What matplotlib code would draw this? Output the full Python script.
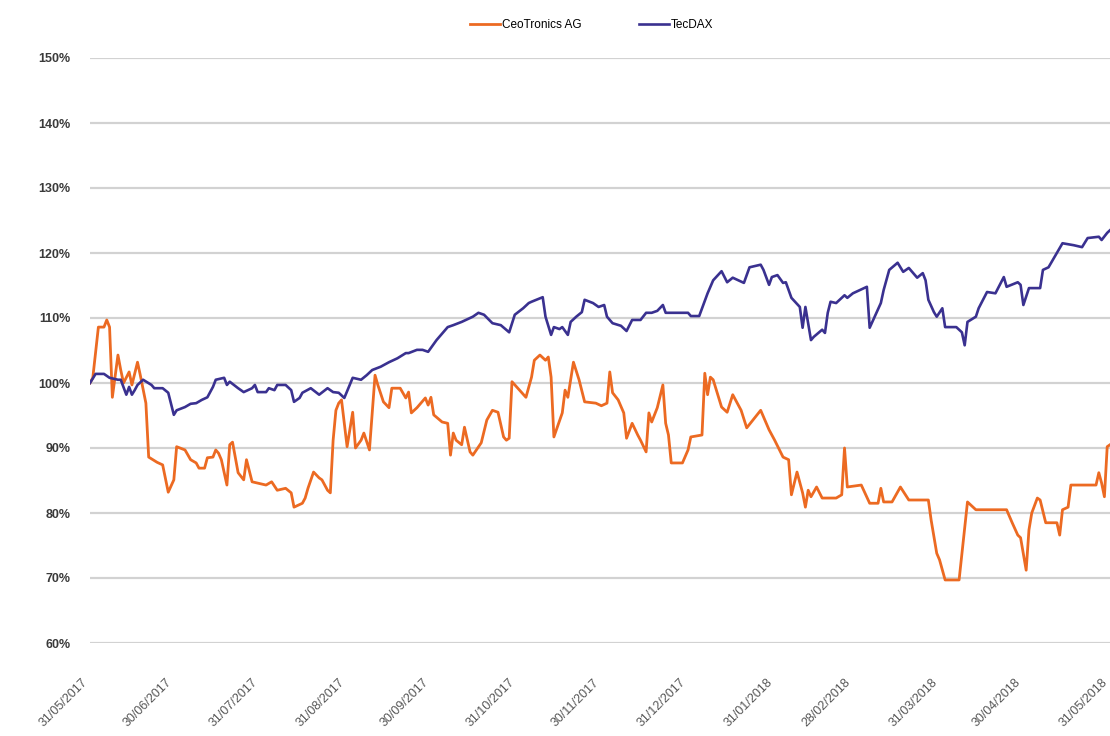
import matplotlib
matplotlib.use("Agg")
import matplotlib.pyplot as plt
import matplotlib.dates as mdates
import numpy as np

# days counted from 31/05/2017, values in percent of start
start = np.datetime64("2017-05-31")

tecdax_days = [0, 2, 5, 7, 10, 11, 13, 14, 15, 16, 17, 19, 22, 23, 26, 28, 30, 31, 34, 36,
               38, 40, 42, 44, 45, 48, 49, 50, 53, 55, 58, 59, 60, 63, 64, 66, 67, 70, 72, 73,
               75, 76, 79, 82, 85, 87, 89, 91, 94, 97, 99, 101, 104, 107, 110, 113, 114, 117, 119, 121,
               124, 128, 130, 133, 137, 139, 141, 144, 147, 150, 152, 155, 157, 158, 162, 163, 165, 166, 168, 169,
               171, 172, 174, 176, 177, 180, 182, 184, 185, 187, 190, 192, 194, 197, 199, 201, 203, 205, 206, 214,
               215, 218, 221, 223, 226, 228, 230, 234, 236, 240, 241, 243, 244, 246, 248, 249, 251, 254, 255, 256,
               257, 258, 259, 262, 263, 264, 265, 267, 269, 270, 271, 273, 277, 278, 279, 283, 284, 286, 289, 291,
               293, 296, 298, 299, 300, 302, 303, 305, 306, 308, 310, 312, 313, 314, 317, 318, 321, 324, 327, 328,
               332, 333, 334, 336, 340, 341, 343, 346, 348, 352, 355, 357, 361, 362, 364, 365]
tecdax_vals = [100.0, 101.4, 101.4, 100.8, 100.5, 100.5, 98.2, 99.4, 98.2, 98.9, 99.7, 100.5, 99.7, 99.2, 99.2, 98.5, 95.1, 95.8, 96.3, 96.8,
               96.9, 97.4, 97.8, 99.4, 100.5, 100.8, 99.7, 100.2, 99.2, 98.6, 99.2, 99.7, 98.6, 98.6, 99.2, 98.9, 99.7, 99.7, 98.9, 97.1,
               97.7, 98.5, 99.2, 98.2, 99.2, 98.6, 98.5, 97.7, 100.8, 100.5, 101.2, 102.0, 102.5, 103.2, 103.8, 104.6, 104.6, 105.1, 105.1, 104.8,
               106.6, 108.6, 108.9, 109.4, 110.2, 110.8, 110.5, 109.2, 108.9, 107.8, 110.5, 111.5, 112.3, 112.5, 113.2, 110.2, 107.4, 108.6, 108.3, 108.6,
               107.4, 109.4, 110.2, 110.9, 112.8, 112.3, 111.7, 112.0, 110.2, 109.2, 108.8, 108.0, 109.7, 109.7, 110.8, 110.8, 111.1, 112.0, 110.8, 110.8,
               110.3, 110.3, 113.8, 115.8, 117.2, 115.5, 116.2, 115.4, 117.8, 118.2, 117.4, 115.1, 116.3, 116.6, 115.4, 115.5, 113.1, 111.7, 108.5, 111.7,
               109.2, 106.6, 107.1, 108.2, 107.7, 110.8, 112.5, 112.3, 113.1, 113.5, 113.1, 113.8, 114.6, 114.8, 108.5, 112.3, 114.3, 117.4, 118.5, 117.1,
               117.7, 116.2, 116.9, 115.8, 112.8, 110.9, 110.2, 111.5, 108.6, 108.6, 108.6, 107.8, 105.8, 109.4, 110.2, 111.5, 114.0, 113.8, 116.3, 114.8,
               115.5, 115.1, 112.0, 114.6, 114.6, 117.4, 117.8, 120.0, 121.5, 121.2, 120.9, 122.3, 122.5, 122.0, 123.1, 123.5]

ceo_days = [0, 1, 3, 5, 6, 7, 8, 10, 11, 12, 14, 15, 17, 18, 20, 21, 24, 26, 28, 30,
            31, 34, 36, 38, 39, 41, 42, 44, 45, 46, 47, 49, 50, 51, 53, 55, 56, 58, 63, 65,
            67, 70, 72, 73, 76, 77, 78, 80, 82, 83, 85, 86, 87, 88, 89, 90, 92, 94, 95, 97,
            98, 100, 102, 103, 105, 107, 108, 111, 113, 114, 115, 117, 120, 121, 122, 123, 126, 128, 129, 130,
            131, 133, 134, 136, 137, 140, 142, 144, 146, 148, 149, 150, 151, 156, 158, 159, 161, 163, 164, 165,
            166, 169, 170, 171, 173, 175, 177, 181, 183, 185, 186, 187, 189, 191, 192, 194, 196, 197, 199, 200,
            201, 203, 205, 206, 207, 208, 212, 214, 215, 219, 220, 221, 222, 223, 226, 228, 230, 233, 235, 240,
            243, 245, 248, 250, 251, 253, 255, 256, 257, 258, 260, 262, 267, 269, 270, 271, 276, 279, 282, 283,
            284, 287, 290, 293, 300, 301, 303, 304, 306, 311, 314, 317, 328, 330, 332, 333, 335, 336, 337, 339,
            340, 342, 346, 347, 348, 350, 351, 360, 361, 362, 363, 364, 365]
ceo_vals = [100.0, 100.8, 108.6, 108.6, 109.7, 108.6, 97.8, 104.3, 102.0, 100.0, 101.7, 99.7, 103.2, 101.2, 96.9, 88.6, 87.8, 87.4, 83.2, 85.1,
            90.2, 89.7, 88.2, 87.7, 86.9, 86.9, 88.5, 88.6, 89.7, 89.2, 88.2, 84.3, 90.5, 90.9, 86.2, 85.1, 88.2, 84.8, 84.3, 84.8,
            83.5, 83.8, 83.1, 80.9, 81.5, 82.3, 83.8, 86.3, 85.4, 85.1, 83.5, 83.1, 91.2, 95.8, 96.9, 97.4, 90.2, 95.5, 90.0, 91.2,
            92.3, 89.7, 101.2, 99.7, 97.1, 96.2, 99.2, 99.2, 97.7, 98.6, 95.4, 96.2, 97.7, 96.6, 97.8, 95.1, 94.0, 93.8, 88.9, 92.3,
            91.2, 90.5, 93.2, 89.4, 88.9, 90.8, 94.3, 95.8, 95.5, 91.7, 91.2, 91.5, 100.2, 97.8, 100.9, 103.5, 104.3, 103.5, 104.0, 100.9,
            91.7, 95.4, 98.9, 97.8, 103.2, 100.5, 97.1, 96.9, 96.5, 96.9, 101.7, 98.5, 97.4, 95.4, 91.5, 93.8, 92.0, 91.2, 89.4, 95.4,
            94.0, 96.2, 99.7, 93.8, 92.0, 87.7, 87.7, 89.7, 91.7, 92.0, 101.5, 98.2, 100.9, 100.5, 96.3, 95.5, 98.2, 95.8, 93.1, 95.8,
            92.8, 91.2, 88.6, 88.2, 82.8, 86.3, 83.1, 80.9, 83.5, 82.5, 84.0, 82.3, 82.3, 82.8, 90.0, 84.0, 84.3, 81.5, 81.5, 83.8,
            81.7, 81.7, 84.0, 82.0, 82.0, 78.9, 73.8, 72.8, 69.7, 69.7, 81.7, 80.5, 80.5, 78.5, 76.6, 76.2, 71.2, 77.4, 80.0, 82.3,
            82.0, 78.5, 78.5, 76.6, 80.5, 80.9, 84.3, 84.3, 86.2, 84.6, 82.5, 90.2, 90.5]

month_ends = ["2017-05-31", "2017-06-30", "2017-07-31", "2017-08-31", "2017-09-30", "2017-10-31",
              "2017-11-30", "2017-12-31", "2018-01-31", "2018-02-28", "2018-03-31", "2018-04-30",
              "2018-05-31"]
y_ticks = [60, 70, 80, 90, 100, 110, 120, 130, 140, 150]

ORANGE = "#EC6A22"
BLUE = "#3A3190"

plt.rcParams["font.family"] = ["Liberation Sans", "DejaVu Sans"]

fig = plt.figure(figsize=(11.1, 7.36), dpi=100)
ax = fig.add_axes([90 / 1110, 1 - 643 / 736, 1020 / 1110, 585 / 736])

tec_dates = start + np.array(tecdax_days).astype("timedelta64[D]")
ceo_dates = start + np.array(ceo_days).astype("timedelta64[D]")

ax.plot(ceo_dates, ceo_vals, color=ORANGE, lw=2.0, label="CeoTronics AG", zorder=3)
ax.plot(tec_dates, tecdax_vals, color=BLUE, lw=1.9, label="TecDAX", zorder=4)

ax.set_xlim(start, start + np.timedelta64(365, "D"))
ax.set_ylim(60, 150)

ax.set_yticks(y_ticks)
ax.set_yticklabels([f"{v}%" for v in y_ticks], fontsize=9, fontweight="bold", color="#3a3a3a")
ax.set_xticks([np.datetime64(d) for d in month_ends])
ax.xaxis.set_major_formatter(mdates.DateFormatter("%d/%m/%Y"))
plt.setp(ax.get_xticklabels(), rotation=45, ha="right", fontsize=9, color="#555555")

ax.tick_params(axis="y", length=0, pad=14)
ax.tick_params(axis="x", length=0, pad=24)
ax.grid(axis="y", color="#d2d2d2", lw=1.6)
ax.set_axisbelow(True)
for s in ax.spines.values():
    s.set_visible(False)

fig.legend(loc="center", bbox_to_anchor=(592 / 1110, 1 - 25 / 736), ncol=2, frameon=False,
           fontsize=8.5, handlelength=2.5, handletextpad=0.2, columnspacing=4.85)

fig.savefig("out.png", dpi=100)
